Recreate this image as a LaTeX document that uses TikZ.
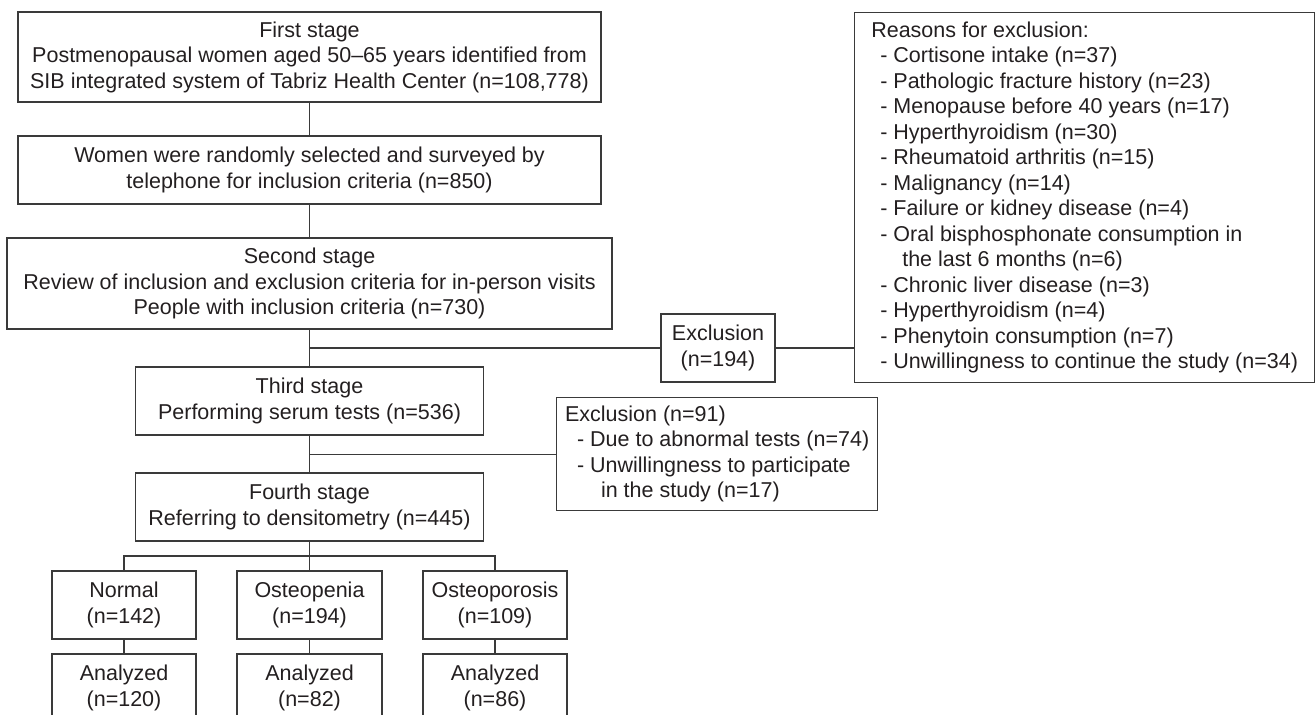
\documentclass[tikz,border=0pt]{standalone}
\usepackage{fontspec}
\setmainfont{Liberation Sans}
\usetikzlibrary{positioning}
\definecolor{lineink}{HTML}{3A3A3A}
\definecolor{textink}{HTML}{231F20}

\begin{document}
\begin{tikzpicture}[x=1pt, y=-1pt,
  box/.style={draw=lineink, line width=1.3pt, align=center, inner sep=0pt,
              text=textink, font=\fontsize{21.5}{25.5}\selectfont},
  listbox/.style={box, align=left, anchor=north west},
  link/.style={draw=lineink, line width=1.3pt},
]
\useasboundingbox (0,0) rectangle (1315,715);
\clip (0,0) rectangle (1315,715);

% ---- Main column: stages ----
\node[box, minimum width=583, minimum height=90] (first) at (309.5,57)
  {First stage\\Postmenopausal women aged 50--65 years identified from\\
   SIB integrated system of Tabriz Health Center (n=108,778)};
\node[box, minimum width=583, minimum height=68] (survey) at (309.5,170)
  {Women were randomly selected and surveyed by\\
   telephone for inclusion criteria (n=850)};
\node[box, minimum width=605, minimum height=91] (second) at (309.5,283.5)
  {Second stage\\Review of inclusion and exclusion criteria for in-person visits\\
   People with inclusion criteria (n=730)};
\node[box, minimum width=348, minimum height=68] (third) at (309.5,401)
  {Third stage\\Performing serum tests (n=536)};
\node[box, minimum width=348, minimum height=68] (fourth) at (309.5,507)
  {Fourth stage\\Referring to densitometry (n=445)};

% ---- Exclusions ----
\node[box, minimum width=114, minimum height=68] (excl1) at (718,348)
  {Exclusion\\(n=194)};
\node[listbox, minimum width=460, minimum height=370] (reasons) at (854,12)
  {Reasons for exclusion:\\
   \hspace*{9pt}- Cortisone intake (n=37)\\
   \hspace*{9pt}- Pathologic fracture history (n=23)\\
   \hspace*{9pt}- Menopause before 40 years (n=17)\\
   \hspace*{9pt}- Hyperthyroidism (n=30)\\
   \hspace*{9pt}- Rheumatoid arthritis (n=15)\\
   \hspace*{9pt}- Malignancy (n=14)\\
   \hspace*{9pt}- Failure or kidney disease (n=4)\\
   \hspace*{9pt}- Oral bisphosphonate consumption in\\
   \hspace*{31pt}the last 6 months (n=6)\\
   \hspace*{9pt}- Chronic liver disease (n=3)\\
   \hspace*{9pt}- Hyperthyroidism (n=4)\\
   \hspace*{9pt}- Phenytoin consumption (n=7)\\
   \hspace*{9pt}- Unwillingness to continue the study (n=34)};
\node[listbox, minimum width=321, minimum height=113] (excl2) at (556,397)
  {Exclusion (n=91)\\
   \hspace*{12pt}- Due to abnormal tests (n=74)\\
   \hspace*{12pt}- Unwillingness to participate\\
   \hspace*{36pt}in the study (n=17)};

% ---- Groups ----
\node[box, minimum width=144, minimum height=68] (normal) at (124,605)
  {Normal\\(n=142)};
\node[box, minimum width=145, minimum height=68] (openia) at (309.5,605)
  {Osteopenia\\(n=194)};
\node[box, minimum width=144, minimum height=68] (oporosis) at (495,605)
  {Osteoporosis\\(n=109)};
\node[box, minimum width=144, minimum height=68] (anNormal) at (124,688)
  {Analyzed\\(n=120)};
\node[box, minimum width=145, minimum height=68] (anOpenia) at (309.5,688)
  {Analyzed\\(n=82)};
\node[box, minimum width=144, minimum height=68] (anOporosis) at (495,688)
  {Analyzed\\(n=86)};

% ---- Connectors ----
\draw[link] (first) -- (survey);
\draw[link] (survey) -- (second);
\draw[link] (second) -- (third);
\draw[link] (third) -- (fourth);

\coordinate (j1) at (second.south |- excl1.west);
\draw[link] (j1) -- (excl1);
\draw[link] (excl1.east) -- (excl1.east -| reasons.west);

\coordinate (j2) at (third.south |- excl2.west);
\draw[link] (j2) -- (excl2);

\coordinate (j3) at (309.5,556);
\draw[link] (fourth) -- (openia);
\draw[link] (normal.north) -- (normal.north |- j3) -- (oporosis.north |- j3)
  -- (oporosis.north);

\draw[link] (normal) -- (anNormal);
\draw[link] (openia) -- (anOpenia);
\draw[link] (oporosis) -- (anOporosis);

\end{tikzpicture}
\end{document}
